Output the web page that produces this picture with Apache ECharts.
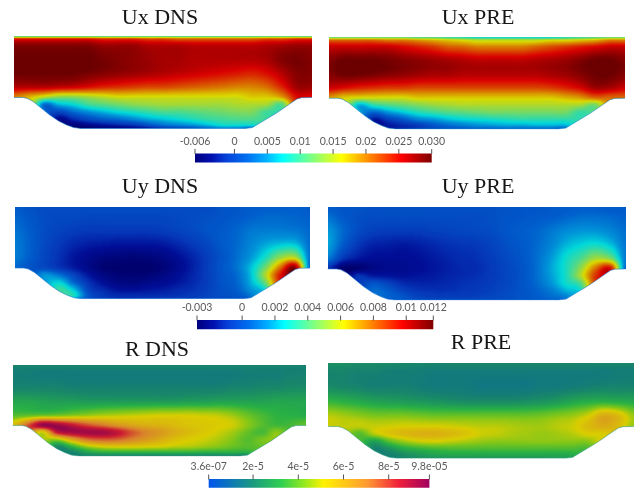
<!DOCTYPE html>
<html><head><meta charset="utf-8">
<style>html,body{margin:0;background:#fff}#main{width:644px;height:490px;filter:blur(0.5px)}</style>
<script src="https://cdn.jsdelivr.net/npm/echarts@6/dist/echarts.min.js"></script>
</head><body><div id="main"></div>
<script>
const _ = null;
// sample positions of the field tables (fraction of the channel width / height)
const gridX = [0,.05,.1,.15,.2,.25,.3,.35,.4,.45,.5,.55,.6,.65,.7,.75,.8,.85,.9,.95,1];
const gridY = [0,.03,.1,.25,.4,.55,.66,.74,.82,.9,.96,1];
// channel floor
const wallX = [0,.03,.045,.065,.12,.15,.177,.2,.225,.775,.8,.814,.881,.936,.95,.965,1];
const wallY = [.665,.665,.675,.71,.854,.92,.962,.99,1,1,.99,.962,.832,.71,.68,.667,.665];

// Ux, in 1e-3
const uxDns = [
[10,10,10,10,10,10,10,10,10,10,10,10,10,10,10,10,10,10,10,10,10],
[24,24,24,24,24,24,23,23,23,22,22,21,21,21,21,21,21,22,22,23,23],
[29,29,29,29,29,29,28,28,28,27,27,27,26.5,26.5,26.5,26.5,26.5,27,27.5,28,28],
[30,30,30,30,30,30,29.5,29,28.5,28,27.5,27.5,27,27,27,27,27,27.5,29,29.5,29],
[30,30,30,30,30,29.5,29,28.5,28,27.5,27,26.5,26,25.5,25,24.5,24,25,27,29,29],
[27,27,27,26.5,26,25,24,23.5,23,22.5,22.5,22,21.5,21,20.5,20,20,21,24,28,28],
[20,18,15,13,13,14,15,16,16,16,16,16,16,16,16,16,17,17,19,25,25],
[_,_,3,6,7.5,10,11,12,13,13.5,14,14,14,14,14,14.5,14.5,14,11,_,_],
[_,_,_,0,2.5,4.5,6,7.5,8.5,9.5,10.5,10.5,11,11.5,12,12.5,12.5,10,_,_,_],
[_,_,_,-4,-2,0,1.5,2.5,4,5.5,6.5,7.5,8.5,9.5,10,10.5,10.5,_,_,_,_],
[_,_,_,_,-5,-4,-3,-2,-1,1,3,4,5,6.5,8,8,8,_,_,_,_],
[_,_,_,_,-6,-6,-5,-5,-4,-3,-1,0,1,2.5,4,4,3,_,_,_,_]];
const uxPre = [
[12,12,12,12,12,12,11,11,10,9,8,8,8,8,8,8,9,10,11,12,12],
[21,21,21,21,20,20,19,18,17,16,15,15,15,15,15,16,16,17,18,20,20],
[26,26,26,26,26,25,24,23,21.5,21,20,20,20,20,21,22,23,24,25,26,26],
[29,30,30,30,29.5,29,28.5,28,27.5,27,26.5,26.5,26.5,26.5,27,27.5,28,29,30,30,29],
[29,30,30,29.5,29,28.5,28,27.5,27.5,27,27,27,27,27,27,27.5,28,29,30,30,29],
[26,25,24,23.5,23,23,22.5,22.5,22.5,22.5,22.5,22.5,22.5,22.5,22.5,23,24,25.5,28,27.5,26],
[19,17,16,16,16,16,17,17,17,17,17,17,17,17,17,17,18,19,21,21,21],
[_,_,6,9,10.5,11.5,12.5,13.5,14,14.5,14.5,14.5,14.5,14.5,14.5,14.5,14.5,14,12,_,_],
[_,_,_,2,4.5,6.5,8.5,9.5,10.5,11,11.5,12,12,12,12,12,12,9.5,_,_,_],
[_,_,_,-3,-1,1,3.5,4.5,6,7,7.5,8,8.5,9,9,9,9,_,_,_,_],
[_,_,_,_,-3,-2,-1,1,2.5,3.5,4.5,5,5.5,5.5,6,6,6,_,_,_,_],
[_,_,_,_,-3,-2,-1,0,1,1.5,2,2,2.5,2.5,2.5,2.5,2,_,_,_,_]];
// Uy, in 1e-3
const uyDns = [
[.3,0,-.2,-.2,-.2,-.2,-.2,-.2,-.2,-.2,-.2,-.2,-.2,-.2,0,.1,.3,.4,.4,.4,.3],
[.3,0,-.2,-.2,-.2,-.2,-.2,-.2,-.2,-.2,-.2,-.2,-.2,-.2,0,.1,.3,.4,.4,.4,.3],
[.5,.1,-.2,-.3,-.3,-.4,-.4,-.4,-.4,-.4,-.4,-.3,-.2,-.1,0,.2,.4,.6,.6,.5,.4],
[.8,.3,-.2,-.5,-.7,-.8,-.8,-.8,-.8,-.8,-.7,-.5,-.3,0,.2,.5,.9,1,1,.9,.6],
[1,.4,-.3,-.8,-1.2,-1.4,-1.5,-1.6,-1.6,-1.6,-1.5,-1.2,-.8,-.4,.2,.6,1.2,1.8,2.2,2.2,.7],
[1,.3,-.4,-1,-1.6,-2,-2.3,-2.4,-2.5,-2.4,-2.2,-1.8,-1.3,-.7,0,.7,1.6,3,5,5.5,.8],
[.6,0,-.3,-.9,-1.5,-2.1,-2.6,-2.7,-2.7,-2.7,-2.5,-2,-1.4,-.7,.1,.8,2.2,4.5,8,11,.4],
[_,_,1.5,.8,-.5,-1.6,-2.2,-2.5,-2.6,-2.5,-2.2,-1.8,-1.3,-.7,0,.6,2.2,5.5,9.5,_,_],
[_,_,_,2.5,.5,-1,-1.8,-2.2,-2.3,-2.1,-1.9,-1.6,-1.2,-.7,0,.5,2,4.5,_,_,_],
[_,_,_,3.5,2.2,-.5,-1.2,-1.7,-1.8,-1.6,-1.5,-1.2,-1,-.6,-.1,.3,1.5,3,_,_,_],
[_,_,_,_,3,0,-.9,-1.2,-1.2,-1.2,-1.1,-1,-.8,-.5,-.1,.1,1,_,_,_,_],
[_,_,_,_,2,0,-.7,-1,-1,-.9,-.8,-.7,-.6,-.4,-.2,0,.5,_,_,_,_]];
const uyPre = [
[.4,.1,0,-.1,-.1,-.1,-.1,-.1,-.1,-.1,-.1,-.1,0,.1,.1,.2,.3,.4,.4,.3,.3],
[.4,.1,0,-.1,-.1,-.1,-.1,-.1,-.1,-.1,-.1,-.1,0,.1,.1,.2,.3,.4,.4,.3,.3],
[.8,.2,-.1,-.2,-.2,-.2,-.2,-.2,-.2,-.2,-.2,-.1,0,.1,.2,.3,.5,.7,.7,.6,.4],
[1.6,.6,-.2,-.6,-.7,-.7,-.7,-.6,-.5,-.4,-.3,-.2,.1,.3,.5,.9,1.3,1.5,1.5,1.2,.7],
[1.8,.3,-.8,-1.3,-1.4,-1.5,-1.4,-1.2,-1,-.9,-.8,-.5,-.1,.2,.6,1.2,2,2.5,2.8,2.2,.9],
[1,-.8,-1.5,-1.8,-1.8,-1.8,-1.7,-1.5,-1.3,-1.1,-1,-.7,-.3,.1,.7,1.6,2.8,3.8,5.2,4.5,1],
[-1,-2.7,-2.6,-2.2,-2,-1.9,-1.8,-1.6,-1.4,-1.2,-1.1,-.8,-.4,0,.7,1.8,3,5,8,9.5,.5],
[_,_,-1,-1.5,-1.6,-1.7,-1.6,-1.5,-1.3,-1.2,-1,-.8,-.4,0,.7,1.7,3,5.5,9,_,_],
[_,_,_,0,-.5,-1.1,-1.3,-1.3,-1.2,-1,-.9,-.7,-.4,0,.6,1.5,2.8,4,_,_,_],
[_,_,_,.6,.3,-.5,-.9,-1,-1,-.9,-.8,-.6,-.3,0,.4,1,2,3,_,_,_],
[_,_,_,_,.5,.1,-.5,-.7,-.7,-.7,-.6,-.4,-.2,0,.3,.7,1.2,_,_,_,_],
[_,_,_,_,.3,.1,-.3,-.5,-.5,-.5,-.4,-.3,-.2,0,.2,.5,.8,_,_,_,_]];
// R, in 1e-5
const rDns = [
[2,2,2,2,2,2,2,2,2,2,2,2,2,2,2,2,2,2,2,2,2],
[1.9,1.9,1.9,1.9,1.9,1.9,1.9,1.9,1.9,1.9,1.9,1.9,1.9,1.9,1.9,1.9,1.9,1.9,1.9,1.9,1.9],
[1.8,1.8,1.7,1.7,1.7,1.7,1.7,1.7,1.7,1.7,1.7,1.7,1.7,1.7,1.7,1.7,1.8,1.8,1.8,1.9,1.9],
[2,2,2,2,1.9,1.9,1.9,1.9,1.9,1.9,1.9,1.9,1.9,1.9,1.9,2,2,2.1,2.1,2.2,2.2],
[2.9,2.9,2.8,2.7,2.7,2.6,2.6,2.6,2.6,2.6,2.6,2.6,2.7,2.7,2.8,2.8,2.8,2.8,2.9,2.9,2.9],
[3.7,3.8,3.9,4,4.2,4.4,4.6,4.7,4.8,4.9,5,5,5,4.9,4.8,4.5,4,3.6,3.3,3.2,3.1],
[5.5,7.5,9.5,9.3,8.6,7.8,7.2,6.6,6.2,5.9,5.8,5.6,5.4,5.3,5.2,5,4.4,3.8,3.5,3.6,4],
[_,_,5,8.5,9.2,9.3,9.3,8.8,7.8,7,6.5,6,5.6,5.3,5,4.6,4,3.6,4.4,_,_],
[_,_,_,4.5,6,7.2,7.6,7.5,7,6.5,6,5.5,5.2,5,4.7,4.3,3.8,4.2,_,_,_],
[_,_,_,2.2,3.2,4.4,5,5.2,5.2,5.1,5,4.8,4.7,4.5,4.3,4,3.8,4,_,_,_],
[_,_,_,_,2,2.8,3.2,3.3,3.3,3.3,3.3,3.3,3.3,3.2,3.2,3.2,3.2,_,_,_,_],
[_,_,_,_,1.8,2,2,2,2,2,2,2,2,2,2,2,2,_,_,_,_]];
const rPre = [
[2.3,2.3,2.2,2.2,2.2,2.1,2.1,2,2,2,2,2,2,2,2,2,2,2,2.1,2.1,2.1],
[2.2,2.2,2.1,2.1,2,2,1.9,1.9,1.9,1.9,1.9,1.9,1.9,1.9,1.9,1.9,1.9,1.9,1.9,1.9,1.9],
[2,2,1.9,1.9,1.8,1.8,1.8,1.7,1.7,1.7,1.7,1.7,1.7,1.7,1.7,1.7,1.7,1.7,1.7,1.8,1.8],
[2.2,2.1,2,1.9,1.9,1.9,1.8,1.7,1.7,1.7,1.6,1.6,1.6,1.6,1.7,1.7,1.8,1.9,2,2,2],
[3.4,3.2,3,2.8,2.7,2.6,2.5,2.4,2.3,2.2,2.2,2.2,2.2,2.3,2.4,2.6,2.9,3.1,3.2,3.1,3],
[4.8,4.6,4.4,4.2,4.2,4.2,4.1,4,4,4,4,4,4,4,4.1,4.3,4.5,5,6,5.6,4.5],
[5,4.9,4.9,4.9,5,5.1,5.1,5.1,5,4.9,4.8,4.8,4.7,4.6,4.6,4.8,5,5.6,6,5.6,4.5],
[_,_,3.8,4.8,5.4,5.7,5.9,5.9,5.7,5.4,5,4.9,4.7,4.6,4.5,4.6,4.8,5.2,5.2,_,_],
[_,_,_,2.8,3.9,4.6,5,5.1,4.9,4.7,4.5,4.4,4.4,4.4,4.4,4.4,4.4,4.4,_,_,_],
[_,_,_,2,2.4,3.1,3.4,3.6,3.7,3.7,3.7,3.7,3.7,3.7,3.7,3.7,3.7,3.7,_,_,_],
[_,_,_,_,1.9,2.3,2.6,2.9,3,3,3,3,3,3,3,3,3.1,_,_,_,_],
[_,_,_,_,1.8,2.1,2.4,2.5,2.6,2.6,2.6,2.6,2.6,2.6,2.6,2.7,2.8,_,_,_,_]];

const panelTitles = ['Ux DNS','Ux PRE','Uy DNS','Uy PRE','R DNS','R PRE'];

const uxRange = [-6,30];
const uyRange = [-2.75,11.65];
const rRange = [.036,9.8];
const uxTicks = [-6,0,5,10,15,20,25,30];
const uxLabels = ['-0.006','0','0.005','0.01','0.015','0.02','0.025','0.030'];
const uyTicks = [-2.75,0,2,4,6,8,10,11.65];
const uyLabels = ['-0.003','0','0.002','0.004','0.006','0.008','0.01','0.012'];
const rTicks = [.036,2,4,6,8,9.8];
const rLabels = ['3.6e-07','2e-5','4e-5','6e-5','8e-5','9.8e-05'];

const jetStops = [[0,'#00007f'],[.07,'#0010b0'],[.13,'#0640d8'],[.22,'#0070f0'],[.3,'#00b0ff'],[.37,'#00ffff'],[.62,'#ffff00'],[.87,'#ff0000'],[1,'#7f0000']];
const rStops = [[0,'#0055ee'],[.2,'#1a9a80'],[.33,'#30d050'],[.43,'#90e820'],[.52,'#fff200'],[.72,'#ff9933'],[.86,'#f0203a'],[1,'#a0005f']];
const fieldShade = 0.85;

// layout
const panelBoxes = [[14,36,298,92.5],[329,37.3,296,91.7],[15,207.3,295,91.4],[327.7,207.3,298,92.7],[12.7,364.7,293.6,91.3],[328.3,363.3,305.4,95]];
const titleBoxes = [[160,7],[478,7],[160,176],[478,176.5],[157,339],[481,332]];
const barBoxes = [[195,153.5,236.7,9],[197,320,236.3,9.3],[208.7,479,220.7,8.7]];
const wallColors = ['#1a7fc8','#1a8fc8','#2a80d8','#2a80d8','#30a080','#30a080'];

function hex(c){return [1,3,5].map(i=>parseInt(c.substr(i,2),16));}
function lut(stops){
  const t=[];
  for(let k=0;k<=255;k++){const f=k/255;let s=0;
    while(s<stops.length-2&&f>stops[s+1][0])s++;
    const a=stops[s],b=stops[s+1],w=(f-a[0])/(b[0]-a[0]),A=hex(a[1]),B=hex(b[1]);
    t.push([0,1,2].map(i=>(A[i]+(B[i]-A[i])*w)*fieldShade));}
  return t;
}
function filled(tab){ // wall-side gaps take the value above them
  const o=tab.map(r=>r.slice());
  for(let j=1;j<o.length;j++)for(let i=0;i<o[j].length;i++)if(o[j][i]===null)o[j][i]=o[j-1][i];
  return o;
}
function cr(a,b,c,d,t){return b+.5*t*(c-a+t*(2*a-5*b+4*c-d+t*(3*(b-c)+d-a)));}
function frac(arr,v){let s=0;while(s<arr.length-2&&v>arr[s+1])s++;return s+Math.min(1,Math.max(0,(v-arr[s])/(arr[s+1]-arr[s])));}
function sample(t,u,v){
  const fx=frac(gridX,u),fy=frac(gridY,v);
  const nx=t[0].length,ny=t.length;
  const ix=Math.min(nx-2,Math.floor(fx)),iy=Math.min(ny-2,Math.floor(fy));
  const tx=fx-ix,ty=fy-iy,col=[];
  for(let j=-1;j<=2;j++){
    const r=t[Math.max(0,Math.min(ny-1,iy+j))];
    const g=k=>r[Math.max(0,Math.min(nx-1,ix+k))];
    col.push(cr(g(-1),g(0),g(1),g(2),tx));
  }
  return cr(col[0],col[1],col[2],col[3],ty);
}

const chart = echarts.init(document.getElementById('main'),null,{renderer:'canvas'});
const grid=[],xAxis=[],yAxis=[],series=[];
function addGrid(b,xa,ya){
  grid.push({left:b[0],top:b[1],width:b[2],height:b[3],containLabel:false});
  xAxis.push(Object.assign({gridIndex:grid.length-1},xa));
  yAxis.push(Object.assign({gridIndex:grid.length-1},ya));
  return grid.length-1;
}
const hiddenX={type:'value',min:0,max:1,show:false};
const hiddenY={type:'value',min:0,max:1,inverse:true,show:false};

function addPanel(n,tab,range,table,wallColor){
  const g=addGrid(panelBoxes[n],hiddenX,hiddenY);
  const F=filled(tab),cells=[];
  for(let j=0;j<gridY.length-1;j++)for(let i=0;i<gridX.length-1;i++)
    cells.push([gridX[i],gridY[j],gridX[i+1],gridY[j+1],tab[j][i]]);
  series.push({type:'custom',name:panelTitles[n],xAxisIndex:g,yAxisIndex:g,silent:true,animation:false,
    encode:{x:[0,2],y:[1,3]},data:cells,clip:false,z:2,
    renderItem(params,api){
      const a=api.coord([0,0]),b=api.coord([1,1]);
      const p=api.coord([api.value(0),api.value(1)]),q=api.coord([api.value(2),api.value(3)]);
      const L=Math.round(p[0]),T=Math.round(p[1]),w=Math.round(q[0])-L,h=Math.round(q[1])-T;
      if(w<=0||h<=0)return null;
      const cv=document.createElement('canvas');cv.width=w;cv.height=h;
      const cx=cv.getContext('2d'),im=cx.createImageData(w,h),d=im.data;
      for(let y=0;y<h;y++)for(let x=0;x<w;x++){
        const u=Math.min(1,Math.max(0,(L+x+.5-a[0])/(b[0]-a[0])));
        const v=Math.min(1,Math.max(0,(T+y+.5-a[1])/(b[1]-a[1])));
        const s=(sample(F,u,v)-range[0])/(range[1]-range[0]);
        const c=table[Math.max(0,Math.min(255,Math.round(s*255)))],o=(y*w+x)*4;
        d[o]=c[0];d[o+1]=c[1];d[o+2]=c[2];d[o+3]=255;
      }
      cx.putImageData(im,0,0);
      return {type:'image',silent:true,style:{image:cv,x:L,y:T,width:w,height:h}};
    }});
  // white area under the channel floor
  series.push({type:'custom',xAxisIndex:g,yAxisIndex:g,silent:true,animation:false,clip:false,z:3,
    data:[[0,1]],encode:{x:0,y:1},
    renderItem(params,api){
      const pts=wallX.map((x,i)=>api.coord([x,wallY[i]]));
      const e=api.coord([1,1.02]),s=api.coord([0,1.02]);
      pts.push([e[0]+1,api.coord([1,wallY[wallY.length-1]])[1]],[e[0]+1,e[1]],[s[0]-1,s[1]],[s[0]-1,api.coord([0,wallY[0]])[1]]);
      return {type:'polygon',silent:true,shape:{points:pts},style:{fill:'#fff'}};
    }});
  series.push({type:'line',xAxisIndex:g,yAxisIndex:g,silent:true,animation:false,symbol:'none',z:4,
    data:wallX.map((x,i)=>[x,wallY[i]]),lineStyle:{color:wallColor,width:1,opacity:.6}});
}
function addBar(n,range,ticks,labels,stops){
  const g=addGrid(barBoxes[n],{type:'value',position:'top',min:range[0],max:range[1],
    axisLine:{show:false},splitLine:{show:false},axisTick:{show:false},
    axisLabel:{show:true,customValues:ticks,margin:6.5,color:'#5a5a5a',fontFamily:'Lato',fontSize:10.5,
      formatter:v=>{const i=ticks.indexOf(v);return i>=0?labels[i]:'';},hideOverlap:false}},
    {type:'value',min:0,max:1,show:false});
  series.push({type:'custom',xAxisIndex:g,yAxisIndex:g,silent:true,animation:false,clip:false,
    data:[[range[0],0,range[1],1]],encode:{x:[0,2],y:[1,3]},
    renderItem(params,api){
      const p=api.coord([api.value(0),api.value(3)]),q=api.coord([api.value(2),api.value(1)]);
      return {type:'rect',silent:true,shape:{x:p[0],y:p[1],width:q[0]-p[0],height:q[1]-p[1]},
        style:{fill:new echarts.graphic.LinearGradient(0,0,1,0,stops.map(s=>({offset:s[0],color:s[1]})))}};
    }});
  // tick marks standing on the bar
  series.push({type:'custom',xAxisIndex:g,yAxisIndex:g,silent:true,animation:false,clip:false,z:4,
    data:ticks.map(t=>[t,1]),encode:{x:0,y:1},
    renderItem(params,api){
      const p=api.coord([api.value(0),api.value(1)]);
      return {type:'line',silent:true,shape:{x1:p[0],y1:p[1]-4.5,x2:p[0],y2:p[1]+.5},style:{stroke:'#555',lineWidth:1}};
    }});
}

const jetLut=lut(jetStops),rLut=lut(rStops);
[[uxDns,uxRange,jetLut],[uxPre,uxRange,jetLut],[uyDns,uyRange,jetLut],[uyPre,uyRange,jetLut],[rDns,rRange,rLut],[rPre,rRange,rLut]]
  .forEach((c,n)=>addPanel(n,c[0],c[1],c[2],wallColors[n]));
addBar(0,uxRange,uxTicks,uxLabels,jetStops);
addBar(1,uyRange,uyTicks,uyLabels,jetStops);
addBar(2,rRange,rTicks,rLabels,rStops);

chart.setOption({
  backgroundColor:'#fff',animation:false,
  title:panelTitles.map((t,i)=>({text:t,left:titleBoxes[i][0],top:titleBoxes[i][1],textAlign:'center',padding:0,
    textStyle:{fontFamily:'Liberation Serif',fontSize:22,fontWeight:'normal',color:'#151515'}})),
  grid,xAxis,yAxis,series
});
</script></body></html>
